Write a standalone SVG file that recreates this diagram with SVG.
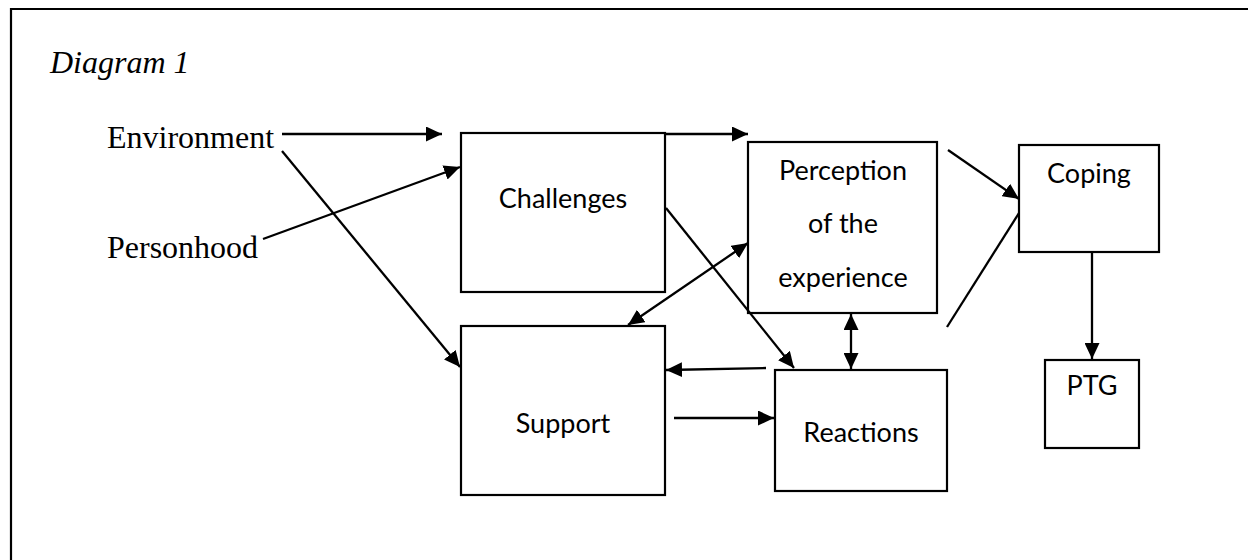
<svg xmlns="http://www.w3.org/2000/svg" width="1248" height="560" viewBox="0 0 1248 560">
<style>
.box{fill:#fff;stroke:#000;stroke-width:2.2}
.lbl{font-family:Lato,"Open Sans",sans-serif;font-size:27px;fill:#000;text-anchor:middle}
.tnr{font-family:"Liberation Serif","Times New Roman",serif;font-size:32px;fill:#000}
.edge{stroke:#000;stroke-width:2.3;fill:none}
.arr{marker-end:url(#ah)}
.dbl{marker-start:url(#ah);marker-end:url(#ah)}
</style>
<defs>
<marker id="ah" markerUnits="userSpaceOnUse" markerWidth="17" markerHeight="15" viewBox="0 0 17 15" refX="16" refY="7.5" orient="auto-start-reverse">
<path d="M0,0 L16,7.5 L0,15 Z" fill="#000"/>
</marker>
</defs>
<rect x="0" y="0" width="1248" height="560" fill="#fff"/>
<path d="M11,570 L11,9 L1260,9" fill="none" stroke="#000" stroke-width="2.2"/>
<text x="50" y="73" class="tnr" font-style="italic">Diagram 1</text>
<g id="environment"><text x="107" y="148" class="tnr">Environment</text></g>
<g id="personhood"><text x="107" y="258" class="tnr">Personhood</text></g>
<g id="challenges"><rect class="box" x="461" y="133" width="204" height="159"/><text class="lbl" x="563" y="208">Challenges</text></g>
<g id="perception"><rect class="box" x="748" y="142" width="189" height="171"/><text class="lbl" x="843" y="180">Perception</text><text class="lbl" x="843" y="233">of the</text><text class="lbl" x="843" y="287">experience</text></g>
<g id="coping"><rect class="box" x="1019" y="145" width="140" height="107"/><text class="lbl" x="1089" y="183">Coping</text></g>
<g id="support"><rect class="box" x="461" y="326" width="204" height="169"/><text class="lbl" x="563" y="433">Support</text></g>
<g id="reactions"><rect class="box" x="775" y="370" width="172" height="121"/><text class="lbl" x="861" y="442">Reactions</text></g>
<g id="ptg"><rect class="box" x="1045" y="360" width="94" height="88"/><text class="lbl" x="1092" y="395">PTG</text></g>
<g id="connectors">
<line class="edge arr" x1="282" y1="134" x2="442" y2="134"/>
<line class="edge arr" x1="665" y1="134" x2="748" y2="134"/>
<line class="edge arr" x1="263" y1="239" x2="460" y2="167"/>
<line class="edge arr" x1="282" y1="151" x2="460" y2="367"/>
<line class="edge arr" x1="666" y1="208" x2="794" y2="368"/>
<line class="edge dbl" x1="628" y1="325" x2="748" y2="243"/>
<line class="edge arr" x1="766" y1="368" x2="666" y2="370"/>
<line class="edge arr" x1="674" y1="418" x2="774" y2="418"/>
<line class="edge dbl" x1="851" y1="314" x2="851" y2="369"/>
<line class="edge arr" x1="948" y1="150" x2="1019" y2="199"/>
<line class="edge" x1="947" y1="327" x2="1019" y2="213"/>
<line class="edge arr" x1="1092" y1="252" x2="1092" y2="359"/>
</g>
</svg>
